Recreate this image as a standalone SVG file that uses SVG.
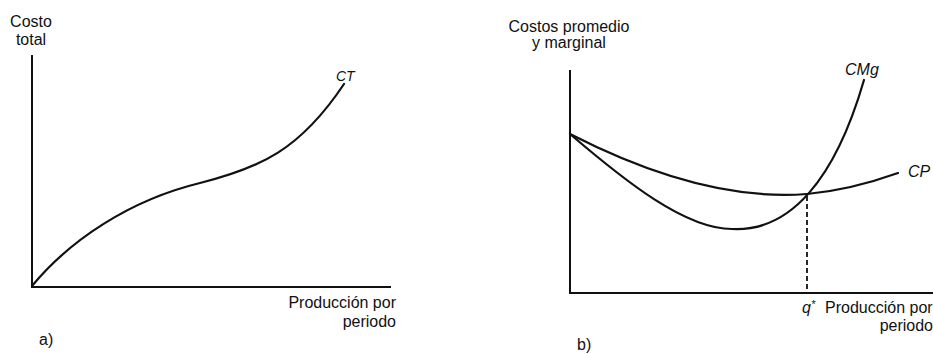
<svg xmlns="http://www.w3.org/2000/svg" width="933" height="354" viewBox="0 0 933 354">
<style>
.axis{stroke:#111;stroke-width:2;fill:none}
.curve{stroke:#111;stroke-width:2.2;fill:none;stroke-linecap:round}
.dash{stroke:#111;stroke-width:1.8;fill:none;stroke-dasharray:5 3}
.lbl{font-family:"Liberation Sans",Arial,sans-serif;font-size:16px;fill:#111}
.ital{font-family:"Liberation Sans",Arial,sans-serif;font-style:italic;fill:#111}
</style>
<rect width="933" height="354" fill="#fff"/>
<g id="panel-a">
  <g id="axes-a">
    <path class="axis" d="M32,55 V287 H391"/>
  </g>
  <g id="curve-ct">
    <path class="curve" d="M32,286 C70,240 130,200 200,183 C260,168 300,150 344,84"/>
  </g>
  <g id="labels-a">
    <text class="lbl" x="31" y="27" text-anchor="middle">Costo</text>
    <text class="lbl" x="31" y="45" text-anchor="middle">total</text>
    <text class="ital" x="336" y="80.5" font-size="14">CT</text>
    <text class="lbl" x="396" y="308" text-anchor="end">Producción por</text>
    <text class="lbl" x="396" y="327" text-anchor="end">periodo</text>
    <text class="lbl" x="39" y="345" font-size="14">a)</text>
  </g>
</g>
<g id="panel-b">
  <g id="axes-b">
    <path class="axis" d="M570,70 V293 H933"/>
  </g>
  <g id="connectors">
    <path id="curve-cp" class="curve" d="M570,134 C650,175 730,200 807,194 C840,191 870,183 898,173"/>
    <path id="curve-cmg" class="curve" d="M570,134 C625,181 685,229 732,229 C790,232 835,180 864,80"/>
    <path id="qline" class="dash" d="M807,196 V292"/>
  </g>
  <g id="labels-b">
    <text class="lbl" x="569" y="32" text-anchor="middle">Costos promedio</text>
    <text class="lbl" x="569" y="48" text-anchor="middle">y marginal</text>
    <text class="ital" x="845" y="75" font-size="16">CMg</text>
    <text class="ital" x="908" y="177" font-size="16">CP</text>
    <text class="ital" x="802" y="313" font-size="16">q<tspan font-size="11" dy="-5">*</tspan></text>
    <text class="lbl" x="825" y="313">Producción por</text>
    <text class="lbl" x="933" y="331" text-anchor="end">periodo</text>
    <text class="lbl" x="577" y="350" font-size="14">b)</text>
  </g>
</g>
</svg>
